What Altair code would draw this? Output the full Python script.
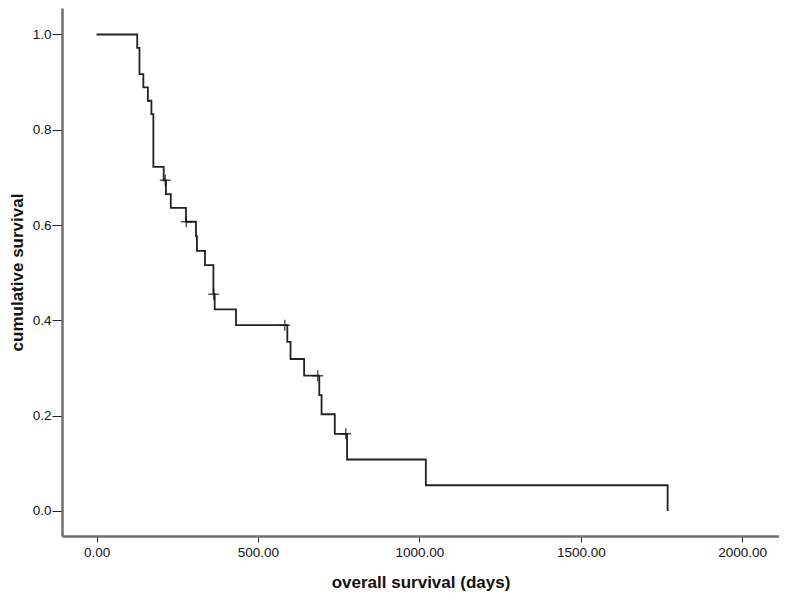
import altair as alt
import pandas as pd

# Kaplan-Meier step data (days, cumulative survival)
times = [0, 126, 133, 145, 159, 170, 176, 208, 215, 230, 277, 308, 311, 336,
         362, 366, 432, 591, 601, 643, 690, 697, 738, 776, 1020, 1769]
surv = [1.0, 0.972, 0.917, 0.889, 0.861, 0.833, 0.722, 0.694, 0.665, 0.636,
        0.607, 0.577, 0.546, 0.516, 0.455, 0.423, 0.390, 0.355, 0.319, 0.284,
        0.243, 0.203, 0.162, 0.108, 0.054, 0.0]

# censored observations
cens_times = [213, 278, 363, 583, 685, 772]
cens_surv = [0.694, 0.607, 0.455, 0.390, 0.284, 0.162]

x_ticks = [0, 500, 1000, 1500, 2000]
y_ticks = [0.0, 0.2, 0.4, 0.6, 0.8, 1.0]

steps = pd.DataFrame({"t": times, "s": surv})
cens = pd.DataFrame({"t": cens_times, "s": cens_surv})

FONT = "Liberation Sans"

xscale = alt.Scale(domain=[-107, 2114], nice=False, zero=False)
yscale = alt.Scale(domain=[-0.0525, 1.0556], nice=False, zero=False)

xaxis = alt.Axis(
    title="overall survival (days)", values=x_ticks, format=".2f",
    grid=False, domainColor="#6e6e6e", domainWidth=2.5,
    tickColor="#222", tickSize=6, tickWidth=1,
    labelFont=FONT, labelFontSize=13.5, labelColor="#111", labelPadding=3,
    titleFont=FONT, titleFontSize=17, titleFontWeight="bold", titleColor="#111",
    titlePadding=16,
)
yaxis = alt.Axis(
    title="cumulative survival", values=y_ticks, format=".1f",
    grid=False, domainColor="#6e6e6e", domainWidth=2.5,
    tickColor="#222", tickSize=10, tickWidth=1,
    labelFont=FONT, labelFontSize=13.5, labelColor="#111", labelPadding=1,
    titleFont=FONT, titleFontSize=17, titleFontWeight="bold", titleColor="#111",
    titlePadding=6,
)

line = alt.Chart(steps).mark_line(
    interpolate="step-after", color="#222222", strokeWidth=1.8
).encode(
    x=alt.X("t:Q", scale=xscale, axis=xaxis),
    y=alt.Y("s:Q", scale=yscale, axis=yaxis),
)

marks = alt.Chart(cens).mark_point(
    shape="M-1,0H1M0,-1V1", size=120, filled=False, color="#111", strokeWidth=1.5
).encode(
    x=alt.X("t:Q", scale=xscale),
    y=alt.Y("s:Q", scale=yscale),
)

chart = (line + marks).properties(
    width=717, height=528,
    autosize=alt.AutoSizeParams(type="none"),
    padding={"left": 54, "top": 0, "right": 0, "bottom": 64},
    background="white",
).configure_view(stroke=None)

chart.save("out.html", embed_options={"renderer": "svg", "actions": False})
